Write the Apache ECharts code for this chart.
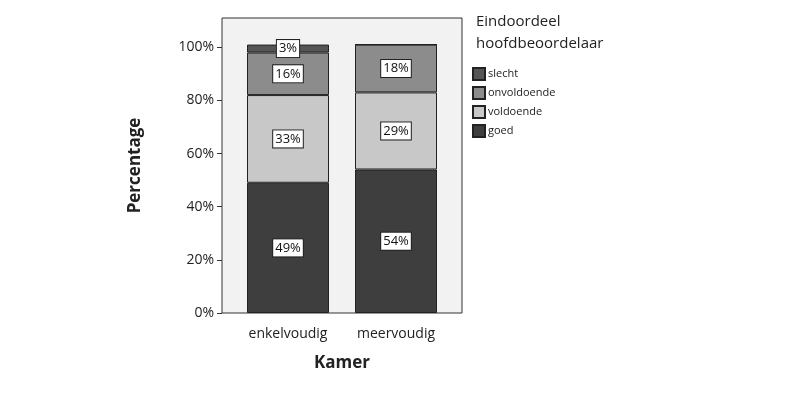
<!DOCTYPE html>
<html><head><meta charset="utf-8">
<script src="https://cdn.jsdelivr.net/npm/echarts@6/dist/echarts.min.js"></script>
<style>body{margin:0;background:#fff}#c{width:800px;height:401px}</style>
</head><body><div id="c"></div>
<script>
var categories = ['enkelvoudig', 'meervoudig'];
var seriesNames = ['goed', 'voldoende', 'onvoldoende', 'slecht'];
var goed = [49, 54];
var voldoende = [33, 29];
var onvoldoende = [16, 18];
var slecht = [3, 0];
var colors = ['#3e3e3e', '#c8c8c8', '#8c8c8c', '#555555'];
var values = [goed, voldoende, onvoldoende, slecht];

var chart = echarts.init(document.getElementById('c'));
var font = "'Open Sans', 'DejaVu Sans', sans-serif";
chart.setOption({
  animation: false,
  textStyle: { fontFamily: font },
  title: {
    text: 'Eindoordeel\nhoofdbeoordelaar', left: 471, top: 6,
    textStyle: { fontSize: 15, fontWeight: 'normal', color: '#222', lineHeight: 22, fontFamily: font }
  },
  legend: {
    data: ['slecht', 'onvoldoende', 'voldoende', 'goed'],
    orient: 'vertical', left: 467, top: 62, itemGap: 5,
    itemWidth: 12, itemHeight: 12, icon: 'rect',
    textStyle: { fontSize: 11, color: '#222', padding: [0, 0, 0, -2] }
  },
  graphic: [{
    type: 'rect', z: -10, silent: true,
    shape: { x: 222, y: 18, width: 240, height: 295 },
    style: { fill: '#f2f2f2', stroke: '#333', lineWidth: 1 }
  }],
  grid: { left: 234, top: 18, width: 216, height: 295 },
  xAxis: {
    type: 'category', data: categories,
    name: 'Kamer', nameLocation: 'middle', nameGap: 42,
    nameTextStyle: { fontSize: 17, fontWeight: 'bold', color: '#222' },
    axisLine: { show: false },
    axisTick: { show: false },
    axisLabel: { fontSize: 14, color: '#222', margin: 14 }
  },
  yAxis: {
    type: 'value', min: 0, max: 111, interval: 20, offset: 12,
    name: 'Percentage', nameLocation: 'middle', nameGap: 78,
    nameTextStyle: { fontSize: 17, fontWeight: 'bold', color: '#222' },
    splitLine: { show: false },
    axisLine: { show: false },
    axisTick: { show: true, length: 5, lineStyle: { color: '#333' } },
    axisLabel: { fontSize: 14, color: '#222', margin: 8, showMaxLabel: false,
      formatter: function (v) { return v > 100 ? '' : v + '%'; } }
  },
  series: seriesNames.map(function (n, i) {
    return {
      name: n, type: 'bar', stack: 'a', barWidth: 82,
      data: values[i].map(function (v) {
        return { value: v, label: { show: v > 0 } };
      }),
      itemStyle: { color: colors[i], borderColor: '#222', borderWidth: 1 },
      label: {
        show: true, position: 'inside', fontSize: 13, color: '#111',
        backgroundColor: '#fff', borderColor: '#222', borderWidth: 1, padding: [2, 2],
        formatter: '{c}%'
      }
    };
  })
});
</script></body></html>
